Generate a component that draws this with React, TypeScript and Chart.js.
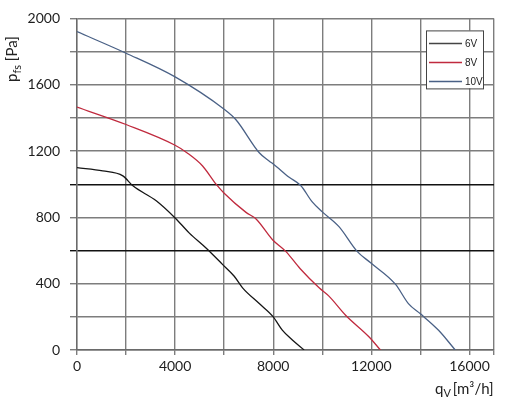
import React, { useEffect, useRef } from "react";
import { Chart, registerables } from "chart.js";

Chart.register(...registerables);

const seriesLabels = ["6V", "8V", "10V"];
const seriesColors = ["#161616", "#c02a3e", "#4a6186"];
const legendColors = ["#444444", "#c02a3e", "#4a6186"];

const flow6V = [0, 1050, 1870, 2280, 3230, 4010, 4580, 5260, 5940, 6410, 6750, 7430, 8000, 8370, 8780, 9260];
const pressure6V = [1100, 1080, 1050, 990, 900, 795, 705, 615, 515, 445, 375, 280, 200, 120, 60, 0];

const flow8V = [0, 2000, 4000, 4480, 5120, 5670, 6000, 6890, 7300, 7970, 8510, 9100, 9870, 10270, 10950, 11900, 12370];
const pressure8V = [1465, 1360, 1235, 1190, 1110, 1000, 945, 830, 790, 665, 595, 490, 375, 325, 210, 80, 0];

const flow10V = [0, 2000, 4000, 6000, 6480, 7430, 7830, 8000, 8650, 9120, 9590, 10000, 10680, 11420, 11970, 12980, 13520, 14000, 14740, 15420];
const pressure10V = [1920, 1790, 1647, 1452, 1389, 1190, 1140, 1122, 1042, 992, 893, 833, 744, 595, 526, 397, 278, 218, 119, 0];

const xGridValues = [0, 2000, 4000, 6000, 8000, 10000, 12000, 14000, 16000, 17000];
const xTickLabels = [0, 4000, 8000, 12000, 16000];
const yGridValues = [0, 200, 400, 600, 800, 1000, 1200, 1400, 1600, 1800, 2000];
const yTickLabels = [0, 400, 800, 1200, 1600, 2000];
const darkGridValues = [600, 1000];

const FONT = "Lato, 'Noto Sans', sans-serif";

function zip(xs: number[], ys: number[]) {
  return xs.map((x, i) => ({ x, y: ys[i] }));
}

const legendPlugin = {
  id: "boxLegend",
  afterDraw(chart: any) {
    const { ctx, chartArea } = chart;
    const w = 57;
    const h = 58;
    const left = chartArea.right - 11 - w;
    const top = chartArea.top + 12;
    ctx.save();
    ctx.fillStyle = "#ffffff";
    ctx.fillRect(left, top, w, h);
    ctx.strokeStyle = "#444";
    ctx.lineWidth = 1;
    ctx.strokeRect(left + 0.5, top + 0.5, w, h);
    ctx.font = "10px 'Liberation Sans Narrow', 'Liberation Sans', sans-serif";
    ctx.textBaseline = "middle";
    ctx.textAlign = "left";
    chart.data.datasets.forEach((ds: any, i: number) => {
      const y = top + 13 + i * 19;
      ctx.strokeStyle = legendColors[i];
      ctx.lineWidth = 1.5;
      ctx.beginPath();
      ctx.moveTo(left + 3, y);
      ctx.lineTo(left + 36, y);
      ctx.stroke();
      ctx.fillStyle = "#222";
      ctx.fillText(ds.label, left + 39, y + 1);
    });
    ctx.restore();
  },
};

const titlePlugin = {
  id: "axisTitles",
  afterDraw(chart: any) {
    const { ctx, chartArea } = chart;
    ctx.save();
    ctx.fillStyle = "#222";
    ctx.textAlign = "left";
    ctx.textBaseline = "alphabetic";
    ctx.translate(17, 82);
    ctx.rotate(-Math.PI / 2);
    let x = 0;
    ctx.font = `15px ${FONT}`;
    ctx.fillText("p", x, 0);
    x += ctx.measureText("p").width;
    ctx.font = `11px ${FONT}`;
    ctx.fillText("fs", x, 4);
    x += ctx.measureText("fs").width;
    ctx.font = `15px ${FONT}`;
    ctx.fillText(" [Pa]", x, 0);
    ctx.restore();

    ctx.save();
    ctx.fillStyle = "#222";
    ctx.textAlign = "left";
    ctx.textBaseline = "alphabetic";
    let xx = chartArea.right - 59;
    const by = 394;
    ctx.font = `15px ${FONT}`;
    ctx.fillText("q", xx, by);
    xx += ctx.measureText("q").width;
    ctx.font = `11px ${FONT}`;
    ctx.fillText("V", xx, by + 3);
    xx += ctx.measureText("V").width + 2;
    ctx.font = `15px ${FONT}`;
    ctx.fillText("[m³/h]", xx, by);
    ctx.restore();
  },
};

export default function App() {
  const ref = useRef<HTMLCanvasElement | null>(null);

  useEffect(() => {
    if (!ref.current) return;
    const chart = new Chart(ref.current, {
      type: "line",
      data: {
        datasets: [
          { label: seriesLabels[0], data: zip(flow6V, pressure6V), borderColor: seriesColors[0] },
          { label: seriesLabels[1], data: zip(flow8V, pressure8V), borderColor: seriesColors[1] },
          { label: seriesLabels[2], data: zip(flow10V, pressure10V), borderColor: seriesColors[2] },
        ].map((d) => ({
          ...d,
          borderWidth: 1.3,
          pointRadius: 0,
          fill: false,
          cubicInterpolationMode: "monotone" as const,
        })),
      },
      options: {
        animation: false,
        responsive: true,
        maintainAspectRatio: false,
        layout: { padding: { top: 14, right: 23, left: 0, bottom: 0 } },
        plugins: {
          legend: { display: false },
          tooltip: { enabled: false },
        },
        scales: {
          x: {
            type: "linear",
            min: 0,
            max: 17000,
            afterFit(scale: any) {
              scale.height = 60;
            },
            afterBuildTicks(scale: any) {
              scale.ticks = xGridValues.map((value) => ({ value }));
            },
            ticks: {
              autoSkip: false,
              maxRotation: 0,
              padding: 3,
              color: "#1e1e1e",
              font: { family: FONT, size: 14 },
              callback: (v: any) => (xTickLabels.includes(Number(v)) ? String(v) : ""),
            },
            grid: {
              color: "#7d7d7d",
              lineWidth: 1.4,
              tickLength: 5,
            },
            border: { color: "#6a6a6a", width: 1.4 },
          },
          y: {
            type: "linear",
            min: 0,
            max: 2000,
            afterFit(scale: any) {
              scale.width = 77;
            },
            afterBuildTicks(scale: any) {
              scale.ticks = yGridValues.map((value) => ({ value }));
            },
            ticks: {
              autoSkip: false,
              padding: 10,
              color: "#1e1e1e",
              font: { family: FONT, size: 14 },
              callback: (v: any) => (yTickLabels.includes(Number(v)) ? String(v) : ""),
            },
            grid: {
              color: (ctx: any) =>
                ctx.tick && darkGridValues.includes(ctx.tick.value) ? "#111111" : "#7d7d7d",
              lineWidth: 1.4,
              tickLength: 7,
            },
            border: { color: "#6a6a6a", width: 1.4 },
          },
        },
      },
      plugins: [legendPlugin, titlePlugin],
    });
    return () => chart.destroy();
  }, []);

  return (
    <div style={{ position: "absolute", left: 0, top: 0, width: 517, height: 410, background: "#fff" }}>
      <canvas ref={ref} />
    </div>
  );
}
